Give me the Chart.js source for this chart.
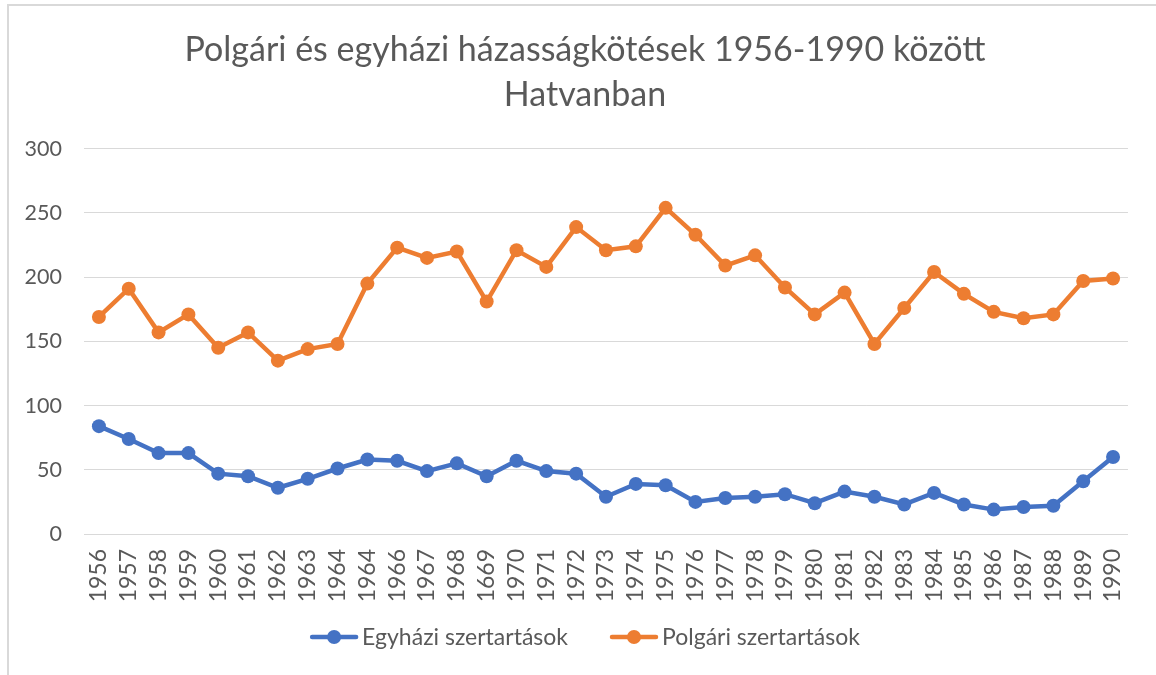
<!DOCTYPE html>
<html>
<head>
<meta charset="utf-8">
<script src="https://cdn.jsdelivr.net/npm/chart.js@4.4.0/dist/chart.umd.min.js"></script>
<style>
  html, body { margin: 0; padding: 0; background: #fff; }
  #wrap { position: relative; width: 1156px; height: 675px; overflow: hidden; }
  #frame { position: absolute; left: 7px; top: 4px; width: 1160px; height: 680px;
           border-left: 2px solid #d9d9d9; border-top: 2px solid #d9d9d9; }
  canvas { position: absolute; left: 0; top: 0; }
</style>
</head>
<body>
<div id="wrap">
  <div id="frame"></div>
  <canvas id="chart" width="1156" height="675"></canvas>
</div>
<script>
// ── Data ─────────────────────────────────────────────────────────────────────

const YEARS = ['1956', '1957', '1958', '1959', '1960', '1961', '1962', '1963', '1964',
  '1964', '1966', '1967', '1968', '1669', '1970', '1971', '1972', '1973', '1974',
  '1975', '1976', '1977', '1978', '1979', '1980', '1981', '1982', '1983', '1984',
  '1985', '1986', '1987', '1988', '1989', '1990'];

const EGYHAZI = [84, 74, 63, 63, 47, 45, 36, 43, 51, 58, 57, 49, 55, 45, 57, 49, 47,
  29, 39, 38, 25, 28, 29, 31, 24, 33, 29, 23, 32, 23, 19, 21, 22, 41, 60];

const POLGARI = [169, 191, 157, 171, 145, 157, 135, 144, 148, 195, 223, 215, 220, 181,
  221, 208, 239, 221, 224, 254, 233, 209, 217, 192, 171, 188, 148, 176, 204, 187,
  173, 168, 171, 197, 199];

const TITLE = ['Polgári és egyházi házasságkötések 1956-1990 között', 'Hatvanban'];
const Y_MIN = 0, Y_MAX = 300, Y_STEP = 50;

// ── Styling ──────────────────────────────────────────────────────────────────

const BLUE   = '#4472C4';
const ORANGE = '#ED7D31';
const TEXT   = '#595959';
const GRID   = '#d9d9d9';
const FONT   = "Lato, 'Open Sans', sans-serif";

function series(label, data, color) {
  return {
    label, data,
    borderColor: color,
    backgroundColor: color,
    borderWidth: 4.5,
    pointRadius: 7,
    pointHoverRadius: 7,
    pointBorderWidth: 0,
    pointStyle: 'circle',
    tension: 0,
  };
}

// Excel-style legend: line with a dot, label right after, centred under the title
const lineLegend = {
  id: 'lineLegend',
  afterDraw(ch) {
    const g = ch.ctx;
    const y = 637, mark = 48, gapText = 4, gapItem = 42;
    g.save();
    g.font = `23px ${FONT}`;
    g.textBaseline = 'middle';
    const items = ch.data.datasets.map(ds => ({
      text: ds.label, color: ds.borderColor, w: g.measureText(ds.label).width,
    }));
    const total = items.reduce((s, it) => s + mark + gapText + it.w, 0) + gapItem * (items.length - 1);
    const tb = ch.titleBlock;
    let x = (tb.left + tb.right) / 2 - total / 2;
    items.forEach(it => {
      g.strokeStyle = it.color;
      g.lineWidth = 4.5;
      g.lineCap = 'round';
      g.beginPath(); g.moveTo(x + 2, y); g.lineTo(x + mark - 2, y); g.stroke();
      g.fillStyle = it.color;
      g.beginPath(); g.arc(x + mark / 2, y, 7, 0, Math.PI * 2); g.fill();
      g.fillStyle = TEXT;
      g.fillText(it.text, x + mark + gapText, y + 1);
      x += mark + gapText + it.w + gapItem;
    });
    g.restore();
  },
};

const chart = new Chart(document.getElementById('chart').getContext('2d'), {
  type: 'line',
  data: {
    labels: YEARS,
    datasets: [
      series('Egyházi szertartások', EGYHAZI, BLUE),
      series('Polgári szertartások', POLGARI, ORANGE),
    ],
  },
  options: {
    responsive: false,
    animation: false,
    layout: { padding: { left: 14, right: 0, top: 10, bottom: 62 } },
    scales: {
      x: {
        offset: true,
        grid: { display: false, drawTicks: false },
        border: { display: true, color: GRID, width: 1 },
        ticks: {
          color: TEXT, padding: 15, autoSkip: false,
          minRotation: 90, maxRotation: 90,
          font: { family: FONT, size: 23 },
        },
        afterFit: s => { s.height = 79; },
      },
      y: {
        min: Y_MIN, max: Y_MAX,
        grid: { color: GRID, lineWidth: 1, drawTicks: false },
        border: { display: false },
        ticks: {
          stepSize: Y_STEP, color: TEXT, padding: 22,
          font: { family: FONT, size: 21.5 },
        },
        afterFit: s => { s.width = 70; },
      },
      // empty right-hand axis, only reserves the margin right of the plot
      yRight: {
        position: 'right',
        min: Y_MIN, max: Y_MAX,
        grid: { display: false, drawTicks: false },
        border: { display: false },
        ticks: { display: false },
        afterFit: s => { s.width = 25; },
      },
    },
    plugins: {
      title: {
        display: true,
        text: TITLE,
        color: TEXT,
        font: { family: FONT, size: 34, weight: 'normal', lineHeight: 1.32 },
        padding: { top: 17.5, bottom: 31.5 },
      },
      legend: { display: false },
      tooltip: { enabled: false },
    },
  },
  plugins: [lineLegend],
});
</script>
</body>
</html>
